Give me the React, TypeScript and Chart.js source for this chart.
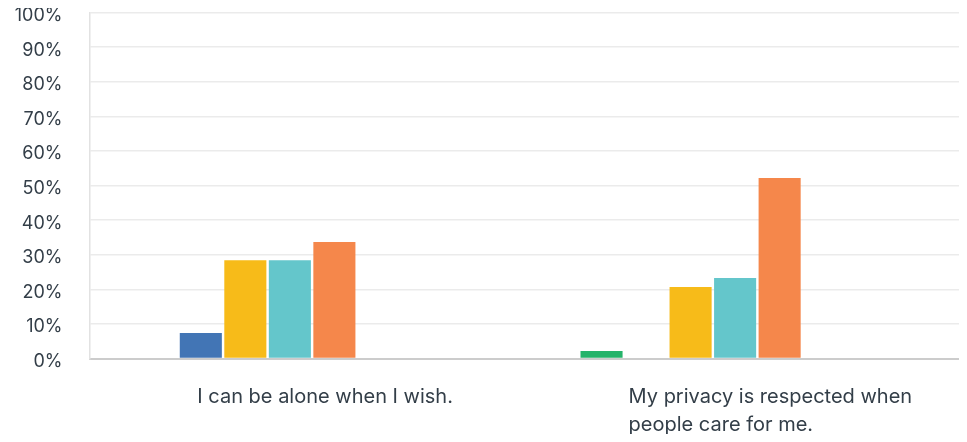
import React, { useEffect, useRef } from "react";
import { Chart, registerables } from "chart.js";

Chart.register(...registerables);

// ---- data ----
const categories: string[][] = [
  ["I can be alone when I wish."],
  ["My privacy is respected when", "people care for me."],
];
const seriesNames: string[] = ["Answer 1", "Answer 2", "Answer 3", "Answer 4", "Answer 5", "Answer 6", "Answer 7", "Answer 8"];
const answer1: number[] = [0, 2.2];
const answer2: number[] = [7.4, 0];
const answer3: number[] = [28.4, 20.7];
const answer4: number[] = [28.4, 23.3];
const answer5: number[] = [33.7, 52.2];
const answer6: number[] = [0, 0];
const answer7: number[] = [0, 0];
const answer8: number[] = [0, 0];
const yTicks: number[] = [0, 10, 20, 30, 40, 50, 60, 70, 80, 90, 100];

const seriesValues = [answer1, answer2, answer3, answer4, answer5, answer6, answer7, answer8];
const seriesColors = ["#25b36a", "#4275b5", "#f7bb19", "#64c6cb", "#f5874b", "#7d6ba0", "#d25f90", "#a7b1b8"];

const FONT = "Inter, 'Open Sans', sans-serif";
const TEXT = "#333e48";
const X_FONT_SIZE = 20;
const X_LINE_H = 28;

const xLabelPlugin = {
  id: "xLeftLabels",
  afterDraw(chart: any) {
    const { ctx, chartArea, scales } = chart;
    const xs = scales.x;
    ctx.save();
    ctx.font = `${X_FONT_SIZE}px ${FONT}`;
    ctx.fillStyle = TEXT;
    ctx.textAlign = "left";
    ctx.textBaseline = "middle";
    categories.forEach((lines, i) => {
      const w = Math.max(...lines.map((l) => ctx.measureText(l).width));
      const cx = xs.getPixelForTick(i) + 13;
      lines.forEach((line, j) => {
        ctx.fillText(line, cx - w / 2, chartArea.bottom + 38.5 + j * X_LINE_H);
      });
    });
    ctx.restore();
  },
};

export default function App() {
  const ref = useRef<HTMLCanvasElement | null>(null);

  useEffect(() => {
    if (!ref.current) return;
    const chart = new Chart(ref.current, {
      type: "bar",
      data: {
        labels: categories,
        datasets: seriesNames.map((name, i) => ({
          label: name,
          data: seriesValues[i],
          backgroundColor: seriesColors[i],
          borderWidth: 0,
          barPercentage: 0.945,
          categoryPercentage: 0.8,
        })),
      },
      options: {
        animation: false,
        responsive: false,
        layout: { padding: { left: 0, right: 0, top: 32.5, bottom: 1.5 } },
        plugins: {
          legend: { display: false },
          tooltip: { enabled: false },
          title: { display: false },
        },
        scales: {
          x: {
            grid: { display: false, drawTicks: false },
            border: { display: true, color: "#cccccc", width: 2 },
            ticks: {
              color: "rgba(0,0,0,0)",
              font: { family: FONT, size: X_FONT_SIZE, lineHeight: 1.4 },
              padding: 9,
              maxRotation: 0,
              autoSkip: false,
            },
          },
          y: {
            min: 0,
            max: 100,
            afterBuildTicks(scale: any) {
              scale.ticks = yTicks.map((v) => ({ value: v }));
            },
            afterFit(scale: any) {
              scale.width = 89.5;
            },
            grid: {
              color: "#ebebeb",
              lineWidth: 1.5,
              drawTicks: true,
              tickLength: 27,
              tickColor: "rgba(0,0,0,0)",
            },
            border: { display: true, color: "#e2e2e2", width: 1.5 },
            ticks: {
              color: TEXT,
              font: { family: FONT, size: 18 },
              padding: 0,
              labelOffset: 3,
              callback: (v: any) => `${v}%`,
            },
          },
        },
      },
      plugins: [xLabelPlugin],
    });
    return () => chart.destroy();
  }, []);

  return (
    <div style={{ width: 967, height: 454, marginTop: -28, marginLeft: -8, overflow: "hidden" }}>
      <div style={{ width: 980, height: 454 }}>
        <canvas ref={ref} width={980} height={454} style={{ display: "block" }} />
      </div>
    </div>
  );
}
